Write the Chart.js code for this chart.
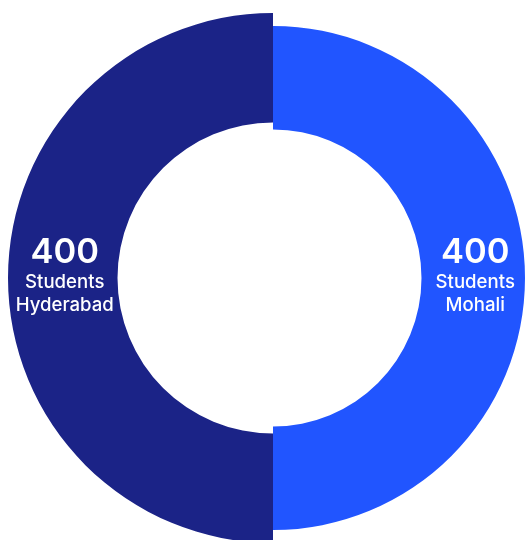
<!DOCTYPE html>
<html>
<head>
<meta charset="utf-8">
<script src="https://cdn.jsdelivr.net/npm/chart.js@4.4.1/dist/chart.umd.min.js"></script>
<style>
  html, body { margin: 0; padding: 0; background: #fff; overflow: hidden; }
  #wrap { position: relative; width: 525px; height: 540px; overflow: hidden; }
  #box { position: absolute; left: 8px; top: 13px; width: 530px; height: 530px; }
</style>
</head>
<body>
<div id="wrap"><div id="box"><canvas id="campusChart"></canvas></div></div>
<script>
// first slice starts at 12 o'clock and runs clockwise -> right half
const campuses = ['Mohali', 'Hyderabad'];
const students = [400, 400];
const unitLabel = 'Students';
const colors = ['#2155ff', '#1b2387'];

// each half has its own ring size (px)
const ringOuter = [252, 265];
const ringInner = [148.5, 155.5];

const ringSizes = {
    id: 'ringSizes',
    afterDatasetUpdate(chart, args) {
        chart.getDatasetMeta(args.index).data.forEach((arc, i) => {
            arc.outerRadius = ringOuter[i];
            arc.innerRadius = ringInner[i];
        });
    }
};

const sliceLabels = {
    id: 'sliceLabels',
    afterDatasetsDraw(chart) {
        const ctx = chart.ctx;
        const meta = chart.getDatasetMeta(0);
        ctx.save();
        ctx.fillStyle = '#ffffff';
        ctx.textAlign = 'center';
        ctx.textBaseline = 'alphabetic';
        meta.data.forEach((arc, i) => {
            const { x, y } = arc.getCenterPoint();
            const cx = x + 2;
            ctx.font = '600 34.5px Inter';
            ctx.fillText(String(chart.data.datasets[0].data[i]), cx, y - 15);
            ctx.font = '500 18.6px Inter';
            ctx.fillText(unitLabel, cx, y + 10);
            ctx.fillText(chart.data.labels[i], cx, y + 33);
        });
        ctx.restore();
    }
};

new Chart(document.getElementById('campusChart'), {
    type: 'doughnut',
    data: {
        labels: campuses,
        datasets: [{ data: students, backgroundColor: colors, borderWidth: 0, hoverOffset: 0 }]
    },
    options: {
        responsive: true,
        maintainAspectRatio: false,
        animation: false,
        cutout: '58.7%',
        layout: { padding: 0 },
        plugins: { legend: { display: false }, tooltip: { enabled: false } }
    },
    plugins: [ringSizes, sliceLabels]
});
</script>
</body>
</html>
